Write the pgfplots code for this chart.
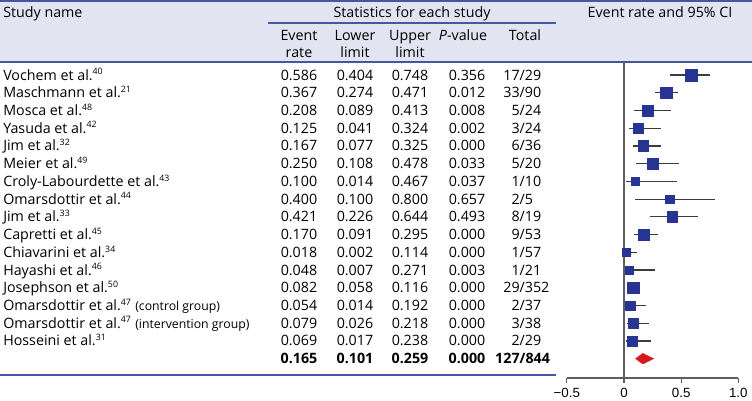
\documentclass[border=0pt]{standalone}
\usepackage{pgfplots}
\usepackage{pgfplotstable}
\pgfplotsset{compat=1.18}
\usepackage{fontspec}
\setmainfont{Open Sans}
\newfontfamily\tickfont{Liberation Sans}
\definecolor{hdrbg}{RGB}{226,229,241}
\definecolor{rulec}{RGB}{70,86,160}
\definecolor{sqblue}{RGB}{40,52,145}
\definecolor{dred}{RGB}{215,25,30}
\definecolor{barg}{RGB}{60,60,60}
\definecolor{axg}{RGB}{95,95,95}
\newcommand\sups[1]{\textsuperscript{\fontsize{6.6}{7}\selectfont #1}}
\newcommand\sm[1]{{\fontsize{9.2}{10}\selectfont #1}}
\pgfplotstableread{
y er lo hi s
0 0.586 0.404 0.748 4.24
-1 0.367 0.274 0.471 4.39
-2 0.208 0.089 0.413 4.01
-3 0.125 0.041 0.324 3.75
-4 0.167 0.077 0.325 4.01
-5 0.250 0.108 0.478 4.01
-6 0.100 0.014 0.467 3.00
-7 0.400 0.100 0.800 3.11
-8 0.421 0.226 0.644 4.01
-9 0.170 0.091 0.295 4.01
-10 0.018 0.002 0.114 3.00
-11 0.048 0.007 0.271 3.00
-12 0.082 0.058 0.116 4.39
-13 0.054 0.014 0.192 3.49
-14 0.079 0.026 0.218 3.86
-15 0.069 0.017 0.238 3.64
}\studies
\begin{document}
\begin{tikzpicture}[x=0.75pt,y=-0.75pt,every node/.style={font=\fontsize{10.7}{12.8}\selectfont}]
\path[use as bounding box] (0,0) rectangle (752,400);
\fill[hdrbg] (0,0) rectangle (752,62);
\draw[rulec, line width=1.1pt] (0,0.8) -- (752,0.8);
\draw[rulec, line width=1.1pt] (0,62) -- (752,62);
\draw[rulec, line width=1.1pt] (268,23) -- (556,23);
\draw[rulec, line width=1.4pt] (0,375) -- (556,375);
% header
\node[anchor=base west, inner sep=0] at (3,17.5) {Study name};
\node[anchor=base, inner sep=0] at (412,17.5) {Statistics for each study};
\node[anchor=base, inner sep=0] at (660,17.5) {Event rate and 95\% CI};
\node[anchor=base, inner sep=0] at (299,40) {Event};
\node[anchor=base, inner sep=0] at (299,57) {rate};
\node[anchor=base, inner sep=0] at (355,40) {Lower};
\node[anchor=base, inner sep=0] at (355,57) {limit};
\node[anchor=base, inner sep=0] at (410,40) {Upper};
\node[anchor=base, inner sep=0] at (410,57) {limit};
\node[anchor=base, inner sep=0] at (463,40) {\textit{P}-value};
\node[anchor=base, inner sep=0] at (525,40) {Total};
% rows
\foreach \i/\name/\er/\lo/\hi/\p/\n/\d in {
0/{Vochem et al.\sups{40}}/0.586/0.404/0.748/0.356/17/29,
1/{Maschmann et al.\sups{21}}/0.367/0.274/0.471/0.012/33/90,
2/{Mosca et al.\sups{48}}/0.208/0.089/0.413/0.008/5/24,
3/{Yasuda et al.\sups{42}}/0.125/0.041/0.324/0.002/3/24,
4/{Jim et al.\sups{32}}/0.167/0.077/0.325/0.000/6/36,
5/{Meier et al.\sups{49}}/0.250/0.108/0.478/0.033/5/20,
6/{Croly-Labourdette et al.\sups{43}}/0.100/0.014/0.467/0.037/1/10,
7/{Omarsdottir et al.\sups{44}}/0.400/0.100/0.800/0.657/2/5,
8/{Jim et al.\sups{33}}/0.421/0.226/0.644/0.493/8/19,
9/{Capretti et al.\sups{45}}/0.170/0.091/0.295/0.000/9/53,
10/{Chiavarini et al.\sups{34}}/0.018/0.002/0.114/0.000/1/57,
11/{Hayashi et al.\sups{46}}/0.048/0.007/0.271/0.003/1/21,
12/{Josephson et al.\sups{50}}/0.082/0.058/0.116/0.000/29/352,
13/{Omarsdottir et al.\sups{47} \sm{(control group)}}/0.054/0.014/0.192/0.000/2/37,
14/{Omarsdottir et al.\sups{47} \sm{(intervention group)}}/0.079/0.026/0.218/0.000/3/38,
15/{Hosseini et al.\sups{31}}/0.069/0.017/0.238/0.000/2/29}{
  \pgfmathsetmacro\yy{80+17.73*\i}
  \node[anchor=base west, inner sep=0] at (3,\yy) {\name};
  \node[anchor=base, inner sep=0] at (299,\yy) {\er};
  \node[anchor=base, inner sep=0] at (355,\yy) {\lo};
  \node[anchor=base, inner sep=0] at (410,\yy) {\hi};
  \node[anchor=base, inner sep=0] at (467,\yy) {\p};
  \node[anchor=base west, inner sep=0] at (519.4,\yy) {\llap{\n}/\d};
}
\pgfmathsetmacro\yy{80+17.73*16}
\node[anchor=base, inner sep=0] at (299,\yy) {\bfseries 0.165};
\node[anchor=base, inner sep=0] at (355,\yy) {\bfseries 0.101};
\node[anchor=base, inner sep=0] at (410,\yy) {\bfseries 0.259};
\node[anchor=base, inner sep=0] at (467,\yy) {\bfseries 0.000};
\node[anchor=base west, inner sep=0] at (519.4,\yy) {\bfseries\llap{127}/844};
\begin{axis}[
  at={(425.14pt,-46.5pt)}, anchor=north west,
  scale only axis, x=85.725pt, y=13.2975pt,
  xmin=-0.5, xmax=1.0, ymin=-17.09, ymax=0.733,
  enlargelimits=false, clip=false,
  axis x line*=bottom, axis y line=none,
  x axis line style={-, axg, line width=0.9pt},
  xtick={-0.5,0,0.5,1}, xticklabels={−0.5,0,0.5,1.0},
  tick align=outside, major tick length=3.75pt,
  xtick style={axg, line width=0.9pt},
  ticklabel style={font=\tickfont\fontsize{10}{12}\selectfont, text=black},
]
\addplot[axg, line width=0.9pt] coordinates {(0,0.733) (0,-17.09)};
\addplot[only marks, mark=none, error bars/.cd, x dir=both, x explicit, error mark=none,
  error bar style={barg, line width=0.9pt}]
  table[x=er, y=y, x error plus expr=\thisrow{hi}-\thisrow{er}, x error minus expr=\thisrow{er}-\thisrow{lo}] {\studies};
\addplot[scatter, only marks, mark=square*, scatter/use mapped color={draw=sqblue, fill=sqblue},
  mark options={line width=0.2pt},
  visualization depends on={\thisrow{s} \as \msz},
  scatter/@pre marker code/.append style={/tikz/mark size=\msz}]
  table[x=er, y=y] {\studies};
\addplot[fill=dred, draw=dred, line width=0.3pt] coordinates {(0.101,-16) (0.165,-15.7) (0.259,-16) (0.165,-16.3)} -- cycle;
\end{axis}
\end{tikzpicture}
\end{document}
